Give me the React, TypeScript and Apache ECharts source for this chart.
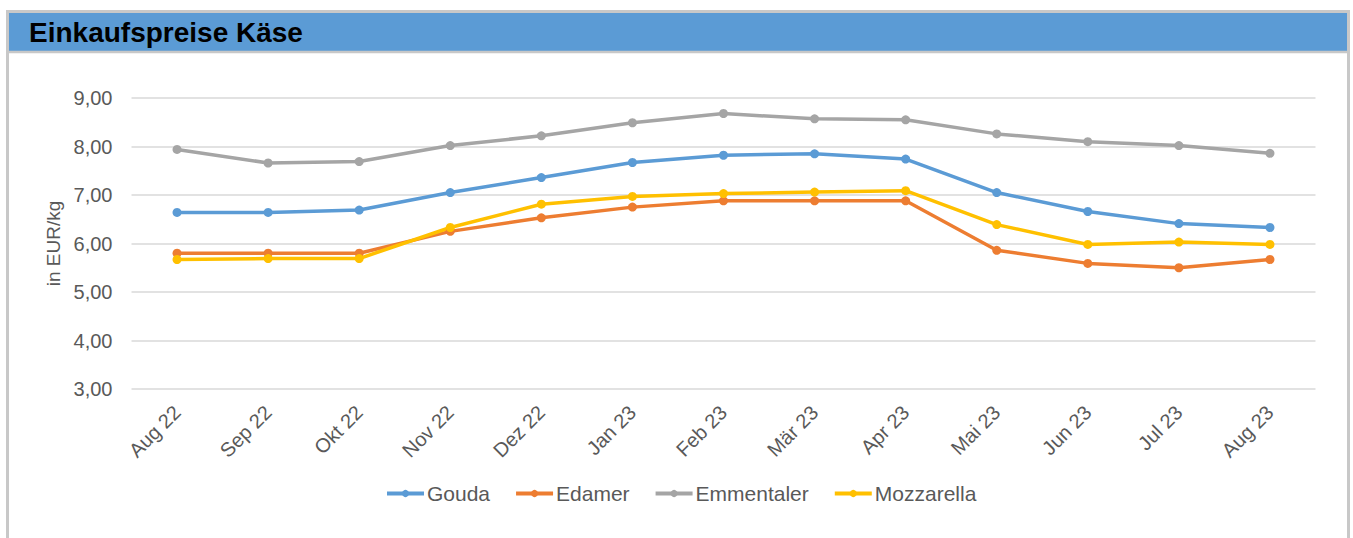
import React, { useEffect, useRef } from "react";
import * as echarts from "echarts";

const categories = ["Aug 22", "Sep 22", "Okt 22", "Nov 22", "Dez 22", "Jan 23", "Feb 23", "Mär 23", "Apr 23", "Mai 23", "Jun 23", "Jul 23", "Aug 23"];
const gouda = [6.64, 6.64, 6.69, 7.05, 7.36, 7.67, 7.82, 7.85, 7.74, 7.05, 6.66, 6.41, 6.33];
const edamer = [5.80, 5.80, 5.80, 6.25, 6.53, 6.75, 6.88, 6.88, 6.88, 5.86, 5.59, 5.50, 5.67];
const emmentaler = [7.94, 7.66, 7.69, 8.02, 8.22, 8.49, 8.68, 8.57, 8.55, 8.26, 8.10, 8.02, 7.86];
const mozzarella = [5.67, 5.69, 5.69, 6.33, 6.81, 6.97, 7.03, 7.06, 7.09, 6.39, 5.98, 6.03, 5.98];

const FONT = "'Liberation Sans', Arial, sans-serif";
const TXT = "#595959";

export default function App() {
  const ref = useRef<HTMLDivElement>(null);
  useEffect(() => {
    const chart = echarts.init(ref.current!, null, { renderer: "svg" });
    const mk = (name: string, data: number[], color: string) => ({
      name,
      type: "line",
      data,
      symbol: "circle",
      symbolSize: 9,
      itemStyle: { color },
      lineStyle: { color, width: 3.5 },
      z: 3,
    });
    chart.setOption({
      animation: false,
      textStyle: { fontFamily: FONT },
      graphic: [
        { type: "rect", shape: { x: 7.5, y: 11.5, width: 1341, height: 600 }, style: { fill: "#fff", stroke: "#c8c8c8", lineWidth: 3 }, z: -10 },
        { type: "rect", shape: { x: 9, y: 13, width: 1338, height: 38 }, style: { fill: "#5B9BD5" }, z: -9 },
        { type: "line", shape: { x1: 9, y1: 52, x2: 1347, y2: 52 }, style: { stroke: "#c8c8c8", lineWidth: 2.5 }, z: -9 },
        { type: "text", x: 29, y: 32, style: { text: "Einkaufspreise Käse", font: `bold 28px ${FONT}`, fill: "#000", verticalAlign: "middle" }, z: 10 },
      ],
      legend: {
        left: 380,
        top: 478,
        itemWidth: 37,
        itemHeight: 9,
        itemGap: 24,
        lineStyle: { width: 4 },
        textStyle: { color: TXT, fontSize: 21, fontFamily: FONT, padding: [0, 0, 0, -2] },
        data: ["Gouda", "Edamer", "Emmentaler", "Mozzarella"],
      },
      grid: { left: 131.5, right: 37.5, top: 98, bottom: 149 },
      xAxis: {
        type: "category",
        data: categories,
        boundaryGap: true,
        axisLine: { show: false },
        axisTick: { show: false },
        axisLabel: { rotate: 45, color: TXT, fontSize: 20, fontFamily: FONT, margin: 20, interval: 0 },
      },
      yAxis: {
        type: "value",
        min: 3,
        max: 9,
        interval: 1,
        name: "in EUR/kg",
        nameLocation: "middle",
        nameGap: 68,
        nameTextStyle: { color: TXT, fontSize: 19, fontFamily: FONT },
        axisLine: { show: false },
        axisTick: { show: false },
        splitLine: { lineStyle: { color: "#d9d9d9", width: 1.5 } },
        axisLabel: {
          color: TXT,
          fontSize: 20,
          fontFamily: FONT,
          margin: 19,
          formatter: (v: number) => v.toFixed(2).replace(".", ","),
        },
      },
      series: [
        mk("Gouda", gouda, "#5B9BD5"),
        mk("Edamer", edamer, "#ED7D31"),
        mk("Emmentaler", emmentaler, "#A5A5A5"),
        mk("Mozzarella", mozzarella, "#FFC000"),
      ],
    });
    return () => chart.dispose();
  }, []);
  return <div ref={ref} style={{ position: "fixed", left: 0, top: 0, width: 1353, height: 538, background: "#fff" }} />;
}
